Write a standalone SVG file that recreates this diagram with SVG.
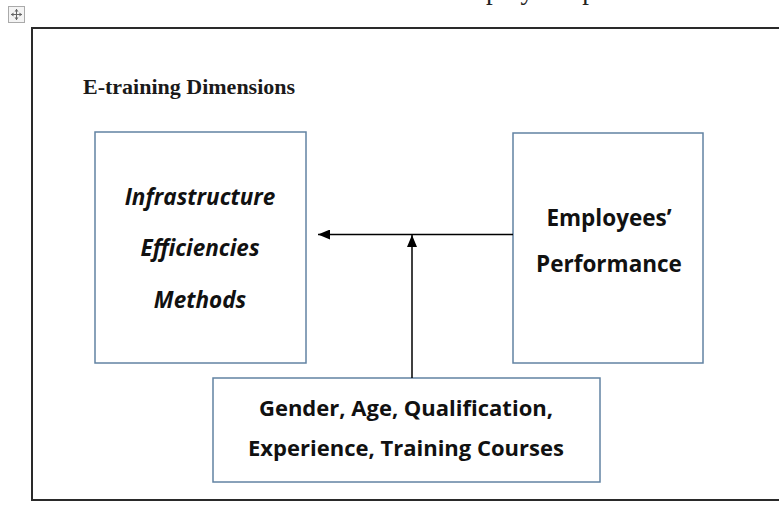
<svg xmlns="http://www.w3.org/2000/svg" width="779" height="507" viewBox="0 0 779 507">
<defs>
<style>
.frame{fill:none;stroke:#2a2a2a;stroke-width:2}
.box{fill:#ffffff;stroke:#6283a3;stroke-width:1.5}
.lbl{font-family:"Open Sans","Liberation Sans",sans-serif;font-weight:bold;font-size:22.5px;fill:#111;text-anchor:middle}
.sm{font-size:22px}
.it{font-style:italic}
.head{font-family:"Liberation Serif","DejaVu Serif",serif;font-weight:bold;font-size:22px;fill:#1a1a1a}
.conn{fill:none;stroke:#000;stroke-width:1.5}
</style>
<marker id="ah" viewBox="0 0 12 10" refX="12" refY="5" markerWidth="12" markerHeight="10" markerUnits="userSpaceOnUse" orient="auto">
<path d="M0,0 L12,5 L0,10 Z" fill="#000"/>
</marker>
</defs>
<rect width="779" height="507" fill="#ffffff"/>
<text x="486" y="-1" font-family="Liberation Serif, serif" font-size="27" fill="#222">ployees’ p</text>
<g id="move-icon">
<rect x="8.5" y="6.5" width="16" height="16" fill="#f4f4f4" stroke="#aaaaaa" stroke-width="1"/>
<path d="M16.5,9 V20 M11,14.5 H22" stroke="#666" stroke-width="1"/>
<path d="M16.5,9 l-2,2.5 h4 Z M16.5,20 l-2,-2.5 h4 Z M11,14.5 l2.5,-2 v4 Z M22,14.5 l-2.5,-2 v4 Z" fill="#666"/>
</g>
<path class="frame" d="M790,28 H32 V500 H790"/>
<text class="head" x="83" y="94">E-training Dimensions</text>
<g id="dimensions">
<rect class="box" x="95" y="132" width="211" height="231"/>
<text class="lbl it" x="200" y="205">Infrastructure</text>
<text class="lbl it" x="200" y="256">Efficiencies</text>
<text class="lbl it" x="200" y="308">Methods</text>
</g>
<g id="performance">
<rect class="box" x="513" y="133" width="190" height="230"/>
<text class="lbl" x="609" y="226">Employees’</text>
<text class="lbl" x="609" y="272">Performance</text>
</g>
<g id="demographics">
<rect class="box" x="213" y="378" width="387" height="104"/>
<text class="lbl sm" x="406" y="416">Gender, Age, Qualification,</text>
<text class="lbl sm" x="406" y="456">Experience, Training Courses</text>
</g>
<g id="connectors">
<line class="conn" x1="513" y1="234.5" x2="318" y2="234.5" marker-end="url(#ah)"/>
<line class="conn" x1="412" y1="378" x2="412" y2="235" marker-end="url(#ah)"/>
</g>
</svg>
